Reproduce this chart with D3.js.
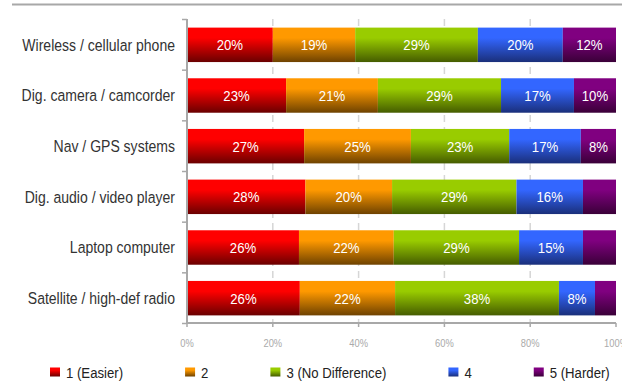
<!DOCTYPE html>
<html>
<head>
<meta charset="utf-8">
<script src="https://cdn.jsdelivr.net/npm/d3@7"></script>
<style>
  body { margin: 0; background: #fff; }
  svg { display: block; }
  text { font-family: "Liberation Sans", Arial, sans-serif; }
  .cat { font-size: 16.5px; fill: #333; }
  .val { font-size: 15.5px; fill: #fff; }
  .tick-lbl { font-size: 11px; fill: #aaa; }
  .leg { font-size: 15.5px; fill: #222; }
</style>
</head>
<body>
<div id="chart"></div>
<script>
// ===== Data =====
const categories = [
  "Wireless / cellular phone",
  "Dig. camera / camcorder",
  "Nav / GPS systems",
  "Dig. audio / video player",
  "Laptop computer",
  "Satellite / high-def radio"
];
const seriesNames = ["1 (Easier)", "2", "3 (No Difference)", "4", "5 (Harder)"];
const easier  = [20.0, 23.1, 27.3, 27.6, 26.1, 26.3];
const two     = [19.2, 21.4, 24.9, 20.2, 22.1, 22.2];
const noDiff  = [28.6, 28.7, 22.9, 29.0, 29.2, 38.2];
const four    = [19.8, 17.0, 16.7, 15.5, 14.9, 8.4];
const harder  = [12.4, 9.8, 8.2, 7.7, 7.7, 4.9];
const xTicks = [0, 20, 40, 60, 80, 100];

// top / bottom gradient colours per series
const colorsTop = ["#ff0000", "#ff9900", "#99cc00", "#3366ff", "#800080"];
const colorsBot = ["#6a0000", "#6e4200", "#455c00", "#1a2f7a", "#3a0038"];

const SQ = 0.85; // horizontal squeeze of the text, as in the reference

const series = [easier, two, noDiff, four, harder];
const rows = categories.map((c, i) => {
  const o = {cat: c};
  seriesNames.forEach((s, j) => o[s] = series[j][i]);
  return o;
});

// ===== Layout =====
const W = 622, H = 382;
const svg = d3.select("#chart").append("svg").attr("width", W).attr("height", H);

// top rule
svg.append("line").attr("x1", 12).attr("x2", W).attr("y1", 4.5).attr("y2", 4.5)
  .attr("stroke", "#a8a8a8").attr("stroke-width", 2);

const x = d3.scaleLinear().domain([0, 100]).range([187, 616]);
const y = d3.scaleBand().domain(categories).range([19.5, 323.5]).paddingInner(0.32).paddingOuter(0.16);

// gradients
const defs = svg.append("defs");
seriesNames.forEach((s, j) => {
  const g = defs.append("linearGradient").attr("id", "grad" + j)
    .attr("x1", 0).attr("x2", 0).attr("y1", 0).attr("y2", 1);
  g.append("stop").attr("offset", "0%").attr("stop-color", colorsTop[j]);
  g.append("stop").attr("offset", "30%").attr("stop-color", colorsTop[j]);
  g.append("stop").attr("offset", "100%").attr("stop-color", colorsBot[j]);
});

// dashed gridlines
svg.append("g").selectAll("line").data(xTicks.slice(1, -1)).join("line")
  .attr("x1", d => x(d)).attr("x2", d => x(d))
  .attr("y1", 19).attr("y2", 323)
  .attr("stroke", "#d6d6d6").attr("stroke-width", 1.5)
  .attr("stroke-dasharray", "7,5");

// bars
const stacked = d3.stack().keys(seriesNames)(rows);
const layer = svg.append("g").selectAll("g").data(stacked).join("g")
  .attr("fill", (d, j) => `url(#grad${j})`);
layer.selectAll("rect").data(d => d).join("rect")
  .attr("x", d => x(d[0]))
  .attr("y", d => y(d.data.cat))
  .attr("width", d => x(d[1]) - x(d[0]))
  .attr("height", y.bandwidth());

// squeezed text helper
function sqText(g, tx, ty, cls, anchor, str) {
  return g.append("text").attr("class", cls)
    .attr("transform", `translate(${tx},${ty}) scale(${SQ},1)`)
    .attr("text-anchor", anchor).attr("dy", "0.36em")
    .text(str);
}

// value labels
const lbl = svg.append("g");
stacked.forEach(s => {
  s.forEach(d => {
    const v = d[1] - d[0];
    if (v < 8) return;
    sqText(lbl, (x(d[0]) + x(d[1])) / 2, y(d.data.cat) + y.bandwidth() / 2,
      "val", "middle", Math.round(v) + "%");
  });
});

// left axis
const yAxis = svg.append("g").attr("transform", "translate(187,0)");
yAxis.append("line").attr("x1", 0).attr("x2", 0).attr("y1", 19).attr("y2", 324)
  .attr("stroke", "#a8a8a8").attr("stroke-width", 2);
const bounds = d3.range(categories.length + 1).map(i => 19.5 + i * y.step());
yAxis.selectAll(".tk").data(bounds).join("line")
  .attr("x1", -5).attr("x2", 0).attr("y1", d => d).attr("y2", d => d)
  .attr("stroke", "#a8a8a8").attr("stroke-width", 1.5);
const catG = svg.append("g");
categories.forEach(c => sqText(catG, 175, y(c) + y.bandwidth() / 2, "cat", "end", c));

// bottom axis
const xAxis = svg.append("g").attr("transform", "translate(0,323)");
xAxis.append("line").attr("x1", 186).attr("x2", 616).attr("y1", 0).attr("y2", 0)
  .attr("stroke", "#a8a8a8").attr("stroke-width", 2);
xAxis.selectAll(".tk").data(xTicks).join("line")
  .attr("x1", d => x(d)).attr("x2", d => x(d)).attr("y1", 0).attr("y2", 4)
  .attr("stroke", "#a8a8a8").attr("stroke-width", 1.5);
xTicks.forEach(t => sqText(xAxis, x(t), 20, "tick-lbl", "middle", t + "%"));

// legend
const leg = svg.append("g").attr("transform", "translate(0,372)");
let lx = 50;
seriesNames.forEach((s, j) => {
  leg.append("rect").attr("x", lx).attr("y", -4.5).attr("width", 10).attr("height", 9)
    .attr("fill", `url(#grad${j})`);
  const t = sqText(leg, lx + 16, 0, "leg", "start", s);
  lx += 16 + t.node().getComputedTextLength() * SQ + 62;
});
</script>
</body>
</html>
